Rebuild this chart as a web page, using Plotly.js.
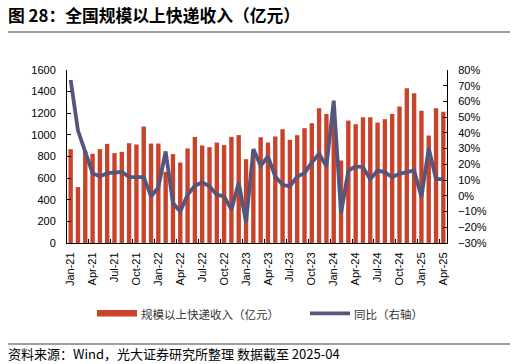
<!DOCTYPE html>
<html>
<head>
<meta charset="utf-8">
<script src="https://cdn.plot.ly/plotly-3.0.1.min.js"></script>
<style>
html,body{margin:0;padding:0;background:#fff;}
#chart{width:516px;height:364px;}
</style>
</head>
<body>
<div id="chart"></div>
<script>
// ---- data ----
const months = [
  "Jan-21","Feb-21","Mar-21","Apr-21","May-21","Jun-21","Jul-21","Aug-21","Sep-21","Oct-21","Nov-21","Dec-21",
  "Jan-22","Feb-22","Mar-22","Apr-22","May-22","Jun-22","Jul-22","Aug-22","Sep-22","Oct-22","Nov-22","Dec-22",
  "Jan-23","Feb-23","Mar-23","Apr-23","May-23","Jun-23","Jul-23","Aug-23","Sep-23","Oct-23","Nov-23","Dec-23",
  "Jan-24","Feb-24","Mar-24","Apr-24","May-24","Jun-24","Jul-24","Aug-24","Sep-24","Oct-24","Nov-24","Dec-24",
  "Jan-25","Feb-25","Mar-25","Apr-25"
];
const revenue = [
  868, 517, 850, 825, 868, 917, 831, 843, 923, 911, 1077, 920,
  920, 658, 822, 744, 875, 980, 902, 886, 929, 905, 982, 998,
  775, 855, 978, 929, 985, 1052, 954, 997, 1062, 1108, 1246, 1194,
  1240, 763, 1132, 1098, 1163, 1163, 1114, 1145, 1194, 1262, 1431, 1385,
  1222, 994, 1246, 1215
];
const yoy = [
  73.7, 41.5, 28.0, 14.4, 12.3, 14.4, 14.8, 15.3, 11.9, 11.9, 11.9, -0.4,
  5.3, 28.2, -4.6, -9.9, 0.7, 6.4, 8.5, 6.0, 0.7, -0.4, -8.8, 8.5,
  -16.9, 29.7, 19.1, 25.0, 12.3, 7.0, 6.0, 12.3, 14.4, 21.2, 26.7, 18.7,
  60.5, -11.0, 16.1, 18.7, 18.2, 10.6, 16.1, 14.9, 11.9, 14.0, 14.9, 16.1,
  -0.8, 30.3, 10.6, 10.6
];
const tickLabels = months.filter((m, i) => i % 3 === 0);
const seriesNames = ["规模以上快递收入（亿元）", "同比（右轴）"];
const titleText = "图 28：全国规模以上快递收入（亿元）";
const sourceText = "资料来源：Wind，光大证券研究所整理 数据截至 2025-04";

const barColor = "#C8432A";
const lineColor = "#55567B";
const cjk = "'Liberation Sans', Arial, 'Noto Sans CJK SC', sans-serif";

// plot area geometry (px) for paper conversions
const W = 516, H = 364, L = 67, R = 69, T = 70, B = 121;
const pw = W - L - R, ph = H - T - B;
const px = x => (x - L) / pw;
const py = y => (H - B - y) / ph;

const traces = [
  {
    type: "bar", x: months, y: revenue, name: seriesNames[0],
    marker: {color: barColor}, yaxis: "y", showlegend: false,
    hovertemplate: "%{x}: %{y}<extra></extra>"
  },
  {
    type: "scatter", mode: "lines", x: months, y: yoy, name: seriesNames[1],
    line: {color: lineColor, width: 3.8}, yaxis: "y2", showlegend: false,
    hovertemplate: "%{x}: %{y}%<extra></extra>"
  }
];

const tickFont = {family: "'Liberation Sans', Arial, sans-serif", size: 11, color: "#000"};

const layout = {
  width: W, height: H,
  margin: {l: L, r: R, t: T, b: B, pad: 0},
  paper_bgcolor: "#fff", plot_bgcolor: "#fff",
  bargap: 0.4,
  font: {family: cjk, color: "#000"},
  title: {
    text: titleText, xref: "container", yref: "container",
    x: 8 / W, xanchor: "left", y: 1 - 16 / H, yanchor: "middle",
    font: {family: "'Noto Sans CJK SC', sans-serif", size: 16.8, color: "#000", weight: 700}
  },
  xaxis: {
    type: "category", range: [-0.5, months.length - 0.5],
    tickmode: "array", tickvals: tickLabels, ticktext: tickLabels,
    tickangle: -90, tickfont: tickFont, tickson: "boundaries",
    ticks: "inside", ticklen: 4, tickcolor: "#000", ticklabelstandoff: 4,
    showline: true, linecolor: "#000", linewidth: 1,
    showgrid: false, zeroline: false, fixedrange: true
  },
  yaxis: {
    range: [0, 1600], dtick: 200, tickfont: tickFont,
    ticks: "inside", ticklen: 4, tickcolor: "#000", ticklabelstandoff: 8,
    showline: true, linecolor: "#000", linewidth: 1,
    showgrid: false, zeroline: false, fixedrange: true
  },
  yaxis2: {
    overlaying: "y", side: "right",
    range: [-30, 80], dtick: 10, ticksuffix: "%", tickfont: tickFont,
    ticks: "inside", ticklen: 4, tickcolor: "#000", ticklabelstandoff: 8,
    showline: true, linecolor: "#000", linewidth: 1,
    showgrid: false, zeroline: false, fixedrange: true
  },
  shapes: [
    {type: "line", xref: "paper", yref: "paper", x0: px(8), x1: px(510), y0: py(32), y1: py(32),
     line: {color: "#7f7f7f", width: 1.6}},
    {type: "line", xref: "paper", yref: "paper", x0: px(8), x1: px(510), y0: py(344), y1: py(344),
     line: {color: "#7f7f7f", width: 1.6}},
    {type: "rect", xref: "paper", yref: "paper", x0: px(97), x1: px(137), y0: py(310), y1: py(316.5),
     fillcolor: barColor, line: {width: 0}},
    {type: "line", xref: "paper", yref: "paper", x0: px(310), x1: px(350), y0: py(313.3), y1: py(313.3),
     line: {color: lineColor, width: 3.8}}
  ],
  annotations: [
    {xref: "paper", yref: "paper", x: px(139), y: py(313.5), xanchor: "left", yanchor: "middle",
     text: seriesNames[0], showarrow: false,
     font: {family: "'Noto Sans CJK SC', sans-serif", size: 11.5, color: "#333"}},
    {xref: "paper", yref: "paper", x: px(352), y: py(313.5), xanchor: "left", yanchor: "middle",
     text: seriesNames[1], showarrow: false,
     font: {family: "'Noto Sans CJK SC', sans-serif", size: 11.5, color: "#333"}},
    {xref: "paper", yref: "paper", x: px(6), y: py(353), xanchor: "left", yanchor: "middle",
     text: sourceText, showarrow: false,
     font: {family: "'Noto Sans CJK SC', sans-serif", size: 13, color: "#000"}}
  ]
};

Plotly.newPlot("chart", traces, layout, {displayModeBar: false, staticPlot: true});
</script>
</body>
</html>
